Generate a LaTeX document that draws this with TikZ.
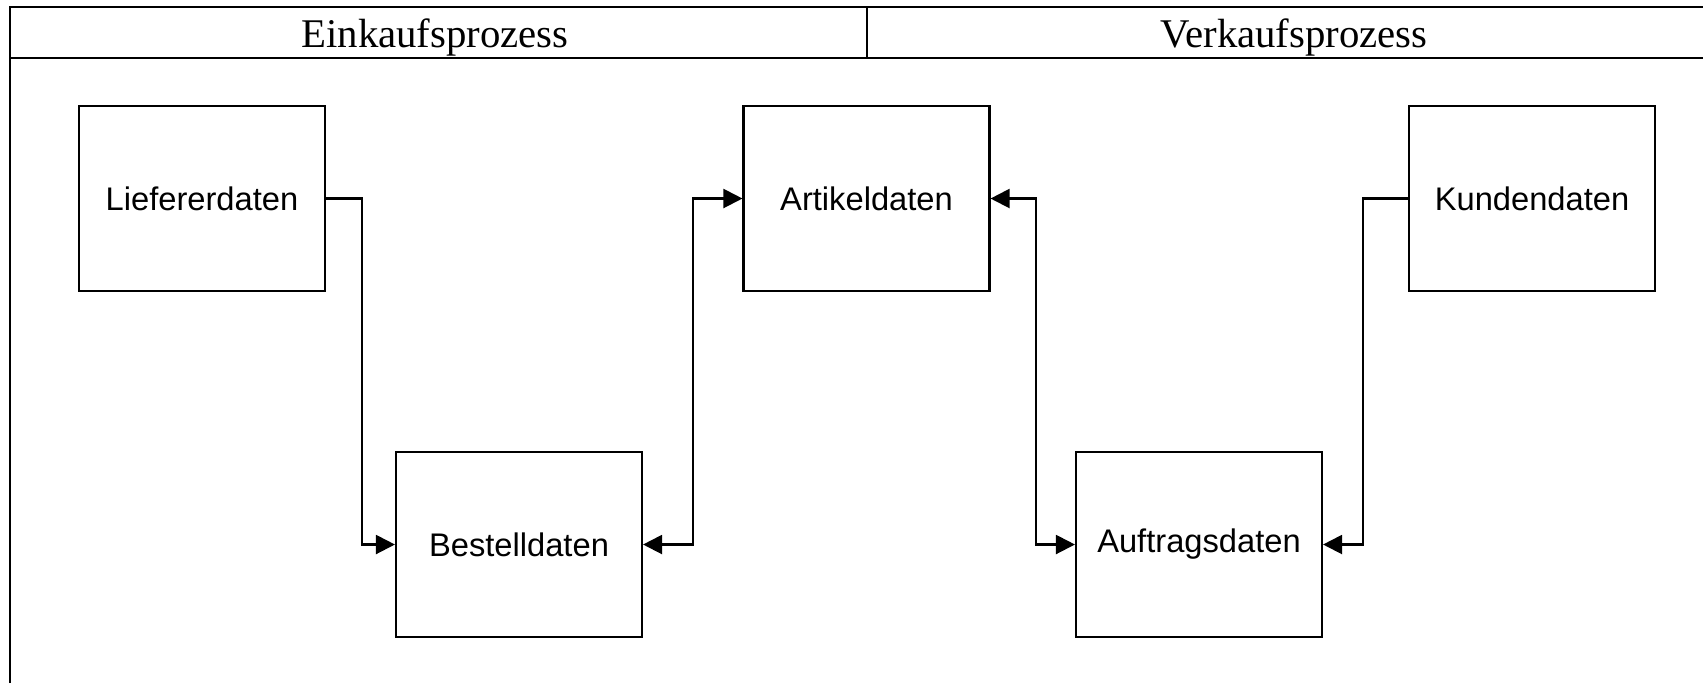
\documentclass[tikz,border=0pt]{standalone}
\usepackage{fontspec}
\setmainfont{Liberation Serif}
\setsansfont{Liberation Sans}
\usetikzlibrary{arrows.meta, calc, positioning}

\begin{document}
\begin{tikzpicture}[>={Triangle[length=5.4pt, width=5.4pt]}, line width=0.6pt]
	\tikzstyle{datbox} = [draw, rectangle, minimum width=2.46cm, minimum height=1.85cm,
	inner sep=0pt, font=\sffamily\fontsize{9.3}{11}\selectfont]
	\tikzstyle{kopf} = [inner sep=0pt, anchor=base, font=\rmfamily\fontsize{11.6}{14}\selectfont]

	\useasboundingbox (0,0) rectangle (17.03,-6.83);

	% Rahmen und Kopfzeile
	\draw[line width=0.75pt] (0.10,-6.83) -- (0.10,-0.07) -- (17.03,-0.07);
	\draw[line width=0.75pt] (0.10,-0.58) -- (17.03,-0.58);
	\draw (8.67,-0.07) -- (8.67,-0.58);
	\node[kopf] (ek) at (4.35,-0.47) {Einkaufsprozess};
	\node[kopf] (vk) at (12.94,-0.47) {Verkaufsprozess};

	% Daten
	\node[datbox] (lief) at (2.02,-1.985) {Liefererdaten};
	\node[datbox] (best) at (5.19,-5.445) {Bestelldaten};
	\node[datbox] (art) at (8.665,-1.985) {Artikeldaten};
	\node[datbox] (auf) at (11.99,-5.445) {Auftragsdaten};
	\node[datbox] (kund) at (15.32,-1.985) {Kundendaten};

	\draw[->] (lief.east) -- ++(0.36,0) |- (best.west);
	\draw[<->] (best.east) -- ++(0.50,0) |- (art.west);
	\draw[<->] (art.east) -- ++(0.45,0) |- (auf.west);
	\draw[->] (kund.west) -- ++(-0.45,0) |- (auf.east);
\end{tikzpicture}
\end{document}
